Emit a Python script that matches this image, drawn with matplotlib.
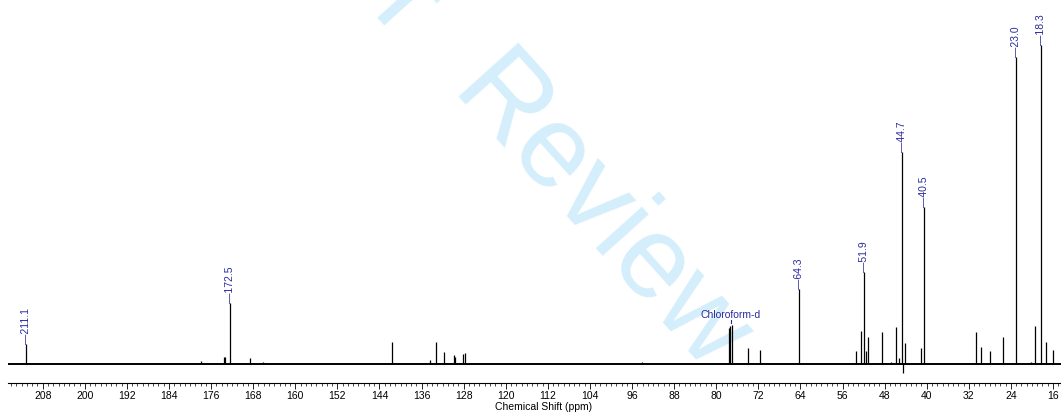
import matplotlib

matplotlib.use("Agg")
import matplotlib.pyplot as plt
from matplotlib.ticker import MultipleLocator

# labelled 13C peaks (ppm) and relative intensities (18.3 ppm = 100)
label_ppm = [211.1, 172.5, 64.3, 51.9, 44.7, 40.5, 23.0, 18.3]
label_int = [6.3, 19.1, 23.5, 28.8, 66.5, 49.2, 96.2, 100.0]
label_txt = ["211.1", "172.5", "64.3", "51.9", "44.7", "40.5", "23.0", "18.3"]

# unlabelled peaks
other_ppm = [178.0, 173.6, 173.3, 168.7, 166.2, 141.7, 134.4, 133.2, 131.7, 129.9,
             129.7, 128.1, 127.8, 94.1, 77.5, 77.3, 77.0, 73.9, 71.6, 53.4,
             52.4, 51.5, 51.1, 48.5, 46.7, 45.9, 45.2, 44.1, 41.1, 30.6,
             29.7, 27.9, 25.45, 20.1, 19.4, 17.4, 15.95, 44.6]
other_int = [1.0, 2.1, 2.3, 1.9, 0.6, 6.8, 1.1, 7.0, 3.9, 2.9,
             2.2, 3.1, 3.4, 0.5, 11.4, 11.9, 12.3, 4.9, 4.4, 4.1,
             10.3, 4.0, 8.5, 9.9, 0.5, 11.7, 1.8, 6.6, 5.1, 9.9,
             5.2, 4.0, 8.4, 0.6, 12.0, 6.9, 4.3, -2.8]

solvent_ppm = 77.2
solvent_txt = "Chloroform-d"

W, H = 1061, 415
BLUE = "#2a2a9c"
WM = "#d4eefb"
plt.rcParams["font.family"] = ["Liberation Sans", "DejaVu Sans"]

fig = plt.figure(figsize=(W / 100, H / 100), dpi=100)
ax = fig.add_axes([8 / W, (H - 383) / H, 1 - 8 / W, 383 / H])
ax.patch.set_alpha(0)

# watermark, anchored at the baseline-left of "Review"
for (px, py), txt, ha in [((448, 95), "Review", "left"), ((419, 64), "For Peer ", "right")]:
    ax.text(px / W, 1 - py / H, txt, transform=fig.transFigure, fontsize=84, color=WM,
            rotation=-48, rotation_mode="anchor", ha=ha, va="baseline",
            zorder=0, clip_on=False)

ax.axhline(0, color="black", lw=1.4, zorder=2)
ax.vlines(other_ppm, 0, other_int, color="black", lw=0.9, zorder=2)
ax.vlines(label_ppm, 0, label_int, color="black", lw=0.9, zorder=2)

for p, h, t in zip(label_ppm, label_int, label_txt):
    ax.text(p, h, "\u2014" + t, rotation=90, ha="center", va="bottom",
            fontsize=7.5, color=BLUE, zorder=3)

ax.text(solvent_ppm, 15.3, solvent_txt, ha="center", va="center",
        fontsize=7.5, color=BLUE, zorder=3)
ax.plot([solvent_ppm, solvent_ppm], [12.7, 13.8], color=BLUE, lw=0.8, zorder=3)

ax.set_xlim(214.6, 14.48)
ax.set_ylim(-5.96, 114.1)
for s in ["top", "left", "right"]:
    ax.spines[s].set_visible(False)
ax.spines["bottom"].set_linewidth(0.8)
ax.set_yticks([])
ax.xaxis.set_major_locator(MultipleLocator(8))
ax.xaxis.set_minor_locator(MultipleLocator(1))
ax.tick_params(axis="x", which="major", length=4, width=0.6, labelsize=7.5, pad=1.5)
ax.tick_params(axis="x", which="minor", length=2.5, width=0.5)

fig.text(544 / W, 1 - 407 / H, "Chemical Shift (ppm)", ha="center", va="center",
         fontsize=7.5)

fig.savefig("out.png", dpi=100)
